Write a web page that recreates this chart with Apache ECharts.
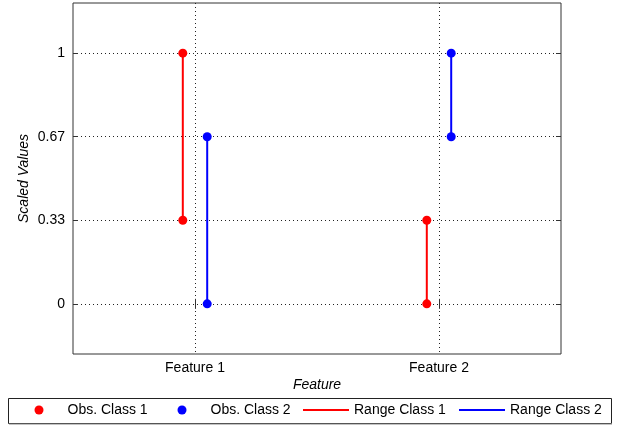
<!DOCTYPE html>
<html>
<head>
<meta charset="utf-8">
<script src="https://cdn.jsdelivr.net/npm/echarts@6/dist/echarts.min.js"></script>
<style>
  html, body { margin: 0; padding: 0; background: #fff; }
  #chart { width: 617px; height: 426px; }
</style>
</head>
<body>
<div id="chart"></div>
<script>
// Features along the x axis (placed at 1, 2, ...)
var categories = ['Feature 1', 'Feature 2'];

// Scaled observations per class and feature: lower and upper end of each range
var class1Low  = [1 / 3, 0];
var class1High = [1, 1 / 3];
var class2Low  = [0, 2 / 3];
var class2High = [2 / 3, 1];

// Y axis ticks and their labels
var yTickValues = [0, 1 / 3, 2 / 3, 1];
var yTickLabels = ['0', '0.33', '0.67', '1'];

var seriesNames = ['Obs. Class 1', 'Obs. Class 2', 'Range Class 1', 'Range Class 2'];

var RED = '#ff0000';
var BLUE = '#0000ff';
var FONT = 'Liberation Sans, Arial, sans-serif';
var SHIFT = 0.05; // horizontal dodge of the two classes around each feature

function points(low, high, dx) {
  var out = [];
  for (var i = 0; i < categories.length; i++) {
    out.push([i + 1 + dx, low[i]]);
    out.push([i + 1 + dx, high[i]]);
  }
  return out;
}

function rangeSeries(name, low, high, dx, color) {
  var list = [];
  for (var i = 0; i < categories.length; i++) {
    list.push({
      name: name,
      type: 'line',
      data: [[i + 1 + dx, low[i]], [i + 1 + dx, high[i]]],
      symbol: 'none',
      lineStyle: { color: color, width: 2 },
      itemStyle: { color: color },
      z: 3,
      silent: true,
      animation: false
    });
  }
  return list;
}

var dotted = { color: '#222', width: 1, type: [1, 3] };
var xTicks = categories.map(function (c, i) { return i + 1; });

var series = [
  {
    name: seriesNames[0], type: 'scatter', data: points(class1Low, class1High, -SHIFT),
    symbol: 'circle', symbolSize: 9, itemStyle: { color: RED, opacity: 1 }, z: 5, animation: false
  },
  {
    name: seriesNames[1], type: 'scatter', data: points(class2Low, class2High, SHIFT),
    symbol: 'circle', symbolSize: 9, itemStyle: { color: BLUE, opacity: 1 }, z: 5, animation: false
  }
].concat(
  rangeSeries(seriesNames[2], class1Low, class1High, -SHIFT, RED),
  rangeSeries(seriesNames[3], class2Low, class2High, SHIFT, BLUE)
);

// One legend per entry so each sits in its own slot of the boxed legend row
function legendAt(name, left, isLine) {
  return {
    data: [{ name: name, icon: isLine ? 'rect' : 'circle' }],
    left: left,
    top: 403,
    padding: 0,
    itemWidth: isLine ? 46 : 9,
    itemHeight: isLine ? 2 : 9,
    itemGap: 0,
    selectedMode: false,
    textStyle: {
      fontFamily: FONT, fontSize: 14, color: '#000',
      padding: isLine ? 0 : [0, 0, 0, 19]
    }
  };
}

var option = {
  backgroundColor: '#fff',
  animation: false,
  grid: {
    left: 73, top: 3, right: 56, bottom: 72,
    show: true, borderColor: '#333', borderWidth: 1, backgroundColor: '#fff'
  },
  xAxis: [
    {
      type: 'value', min: 0.5, max: 2.5,
      name: 'Feature', nameLocation: 'middle', nameGap: 24, nameMoveOverlap: false,
      nameTextStyle: { fontFamily: FONT, fontSize: 14, fontStyle: 'italic', color: '#000' },
      axisLine: { show: false },
      axisTick: { show: true, inside: true, length: 5, customValues: xTicks, lineStyle: { color: '#333' } },
      axisLabel: {
        customValues: xTicks, margin: 7,
        fontFamily: FONT, fontSize: 14, color: '#000',
        formatter: function (v) { return categories[Math.round(v) - 1] || ''; }
      },
      splitLine: { show: true, lineStyle: dotted }
    },
    {
      type: 'value', min: 0.5, max: 2.5, position: 'top',
      axisLine: { show: false },
      axisTick: { show: true, inside: true, length: 5, customValues: xTicks, lineStyle: { color: '#333' } },
      axisLabel: { show: false },
      splitLine: { show: false }
    }
  ],
  yAxis: [
    {
      type: 'value', min: -0.2, max: 1.2,
      name: 'Scaled Values', nameLocation: 'middle', nameGap: 42, nameMoveOverlap: false,
      nameTextStyle: { fontFamily: FONT, fontSize: 14, fontStyle: 'italic', color: '#000' },
      axisLine: { show: false },
      axisTick: { show: true, inside: true, length: 5, customValues: yTickValues, lineStyle: { color: '#333' } },
      axisLabel: {
        customValues: yTickValues, margin: 8,
        fontFamily: FONT, fontSize: 14, color: '#000',
        formatter: function (v) {
          for (var i = 0; i < yTickValues.length; i++) {
            if (Math.abs(v - yTickValues[i]) < 1e-6) return yTickLabels[i];
          }
          return '';
        }
      },
      splitLine: { show: true, lineStyle: dotted }
    },
    {
      type: 'value', min: -0.2, max: 1.2, position: 'right',
      axisLine: { show: false },
      axisTick: { show: true, inside: true, length: 5, customValues: yTickValues, lineStyle: { color: '#333' } },
      axisLabel: { show: false },
      splitLine: { show: false }
    }
  ],
  legend: [
    legendAt(seriesNames[0], 34.5, false),
    legendAt(seriesNames[1], 177.5, false),
    legendAt(seriesNames[2], 303, true),
    legendAt(seriesNames[3], 459, true)
  ],
  graphic: [
    {
      type: 'rect', left: 8, top: 398, z: -1,
      shape: { width: 603, height: 25 },
      style: { fill: '#fff', stroke: '#222', lineWidth: 1 }
    },
    {
      type: 'line', z: -1,
      shape: { x1: 9, y1: 424, x2: 612, y2: 424 },
      style: { stroke: '#888', lineWidth: 1 }
    }
  ],
  series: series
};

var chart = echarts.init(document.getElementById('chart'), null, { renderer: 'canvas' });
chart.setOption(option);
</script>
</body>
</html>
